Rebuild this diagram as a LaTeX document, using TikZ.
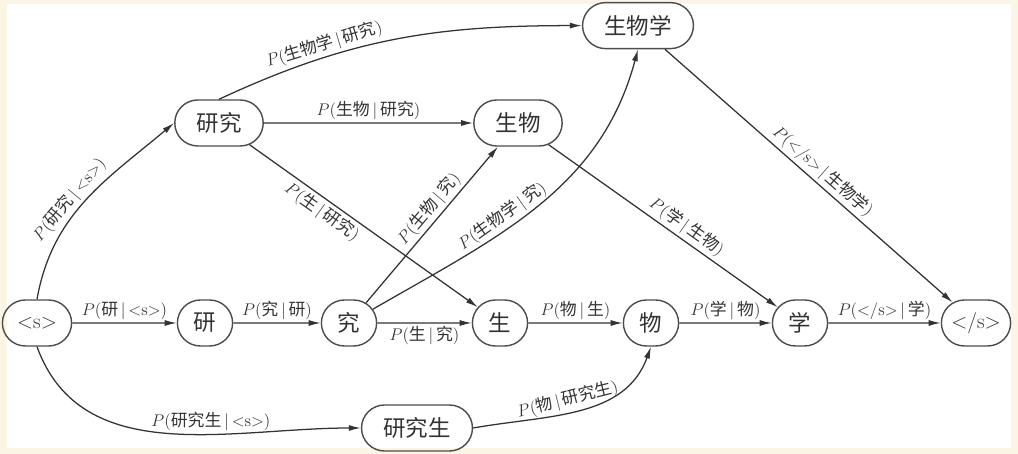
\documentclass[tikz,border=0pt]{standalone}
\usepackage{fontspec}
\newfontfamily\cjk{Noto Sans CJK SC}
\usetikzlibrary{shapes.misc,arrows.meta}
\definecolor{paper}{RGB}{251,245,230}
\newcommand{\zh}[1]{{\cjk #1}}
\newcommand{\condbar}{\,$|$\,}

\tikzset{
  box/.style={rounded rectangle, draw=black!70, line width=1pt, minimum height=1.15cm,
    inner xsep=1pt, font=\fontsize{16}{18}\selectfont\cjk, text=black!80},
  char/.style={box, minimum width=1.45cm},
  word/.style={box, inner xsep=0.48cm},
  tag/.style={box, minimum width=1.8cm, font=\fontsize{15}{18}\selectfont},
  link/.style={-{Latex[length=3mm,width=1.5mm]}, draw=black!80, line width=0.9pt},
  prob/.style={font=\fontsize{12}{14}\selectfont, text=black!80, inner sep=2pt},
}

\begin{document}
\begin{tikzpicture}

\useasboundingbox (0,0) rectangle (25.45,11.35);
\fill[paper] (0,0) rectangle (25.45,11.35);
\fill[white] (0.18,0.15) rectangle (25.28,11.25);

% bottom row: single characters
\node[tag]  (s)     at (0.925,3.275)  {<s>};
\node[char] (yan)   at (5.125,3.275)  {研};
\node[char] (jiu)   at (8.725,3.275)  {究};
\node[char] (sheng) at (12.5,3.275)   {生};
\node[char] (wu)    at (16.275,3.275) {物};
\node[char] (xue)   at (20.0,3.275)   {学};
\node[tag]  (es)    at (24.4,3.275)   {</s>};

% words
\node[word] (yanjiu)      at (5.475,8.275) {研究};
\node[word] (shengwu)     at (12.95,8.275) {生物};
\node[word] (shengwuxue)  at (15.95,10.71) {生物学};
\node[word] (yanjiusheng) at (10.425,0.65) {研究生};

\draw[link] (s) -- node[prob,above]{$P$(\zh{研}\condbar<s>)} (yan);
\draw[link] (yan) -- node[prob,above]{$P$(\zh{究}\condbar\zh{研})} (jiu);
\draw[link] (jiu) -- node[prob,below]{$P$(\zh{生}\condbar\zh{究})} (sheng);
\draw[link] (sheng) -- node[prob,above]{$P$(\zh{物}\condbar\zh{生})} (wu);
\draw[link] (wu) -- node[prob,above]{$P$(\zh{学}\condbar\zh{物})} (xue);
\draw[link] (xue) -- node[prob,above]{$P$(</s>\condbar\zh{学})} (es);

\draw[link] (s.north) to[out=80,in=220]
  node[prob,above,sloped,pos=0.45]{$P$(\zh{研究}\condbar<s>)} (yanjiu.west);
\draw[link] (yanjiu.north) to[out=25,in=180]
  node[prob,above,sloped,pos=0.3]{$P$(\zh{生物学}\condbar\zh{研究})} (shengwuxue.west);
\draw[link] (yanjiu) -- node[prob,above]{$P$(\zh{生物}\condbar\zh{研究})} (shengwu);
\draw[link] (yanjiu) -- node[prob,below,sloped,pos=0.35]{$P$(\zh{生}\condbar\zh{研究})} (sheng);
\draw[link] (jiu) -- node[prob,above,sloped,pos=0.55]{$P$(\zh{生物}\condbar\zh{究})} (shengwu);
\draw[link] (jiu.30) to[out=30,in=-105]
  node[prob,above,sloped,pos=0.4]{$P$(\zh{生物学}\condbar\zh{究})} (shengwuxue.south);
\draw[link] (shengwu) -- node[prob,above,sloped,pos=0.57]{$P$(\zh{学}\condbar\zh{生物})} (xue);
\draw[link] (shengwuxue) -- node[prob,above,sloped,pos=0.52]{$P$(</s>\condbar\zh{生物学})} (es);
\draw[link] (s.south) to[out=-70,in=180]
  node[prob,above,pos=0.62]{$P$(\zh{研究生}\condbar<s>)} (yanjiusheng.west);
\draw[link] (yanjiusheng.east) to[out=10,in=-110]
  node[prob,above,sloped,pos=0.45]{$P$(\zh{物}\condbar\zh{研究生})} (wu.south);

\end{tikzpicture}
\end{document}
